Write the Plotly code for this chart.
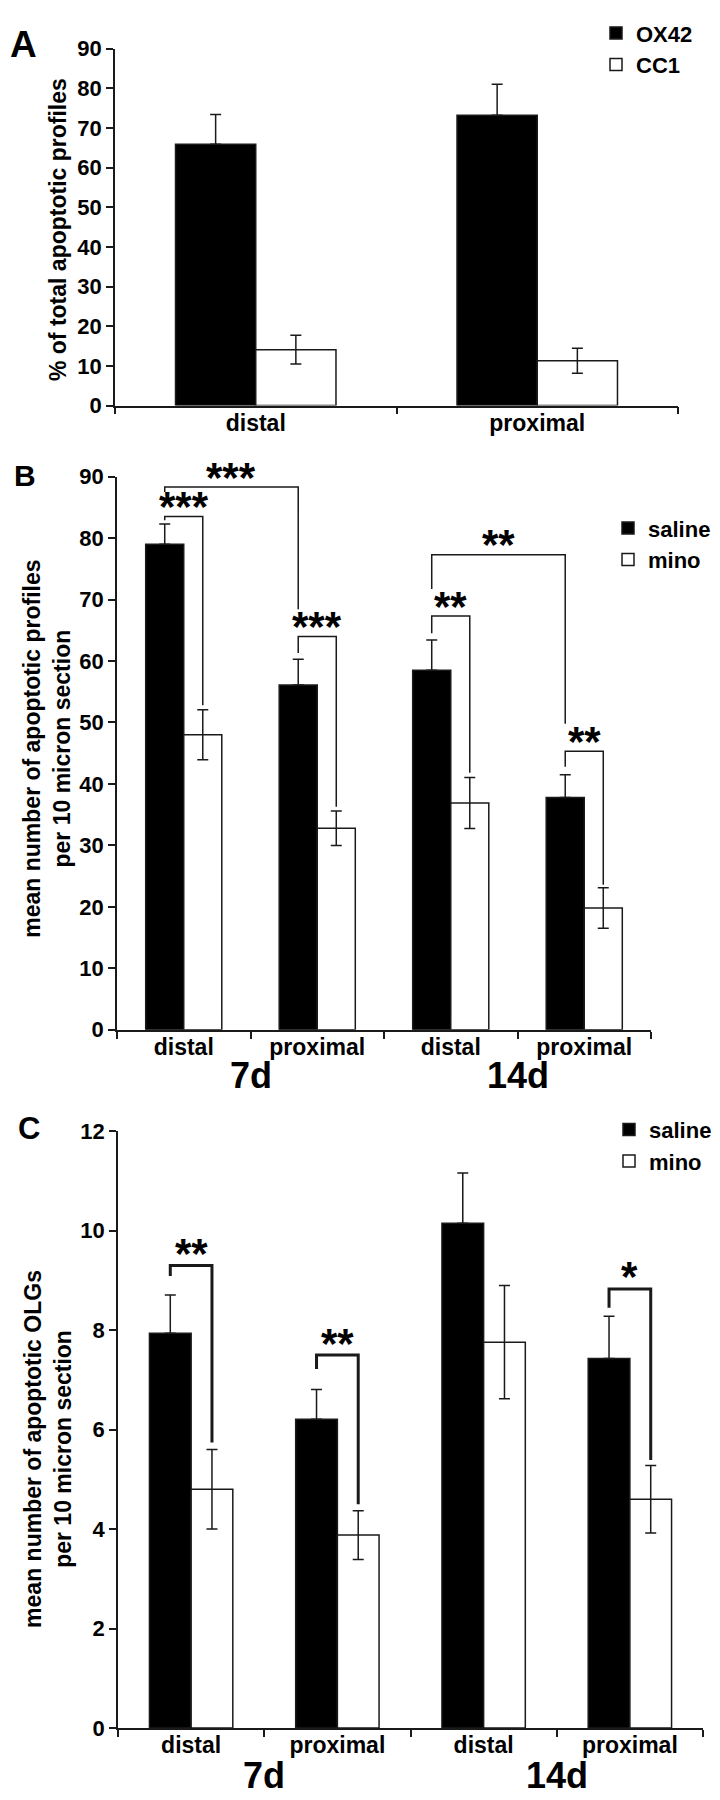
import plotly.graph_objects as go

W, H = 720, 1800
FONT = "Liberation Sans, Arial, Helvetica, sans-serif"
INK = "#1a1a1a"

# ---------------- Panel A data ----------------
a_sites = ["distal", "proximal"]
a_ox42 = [65.9, 73.2]
a_ox42_err = [7.5, 7.8]
a_cc1 = [14.1, 11.3]
a_cc1_err = [3.65, 3.15]

# ---------------- Panel B data ----------------
bc_sites = ["distal", "proximal", "distal", "proximal"]
bc_days = ["7d", "14d"]
b_saline = [79.0, 56.1, 58.5, 37.8]
b_saline_err = [3.3, 4.2, 4.9, 3.7]
b_mino = [48.0, 32.8, 36.9, 19.8]
b_mino_err = [4.05, 2.8, 4.15, 3.3]
# (left cat, left series, right cat, right series, bracket level, left leg end, right leg end, label)
b_brackets = [
    (0, 0, 0, 1, 83.5, 82.9, 52.8, "***"),
    (0, 0, 1, 0, 88.3, 87.5, 68.4, "***"),
    (1, 0, 1, 1, 64.0, 61.3, 36.3, "***"),
    (2, 0, 3, 0, 77.3, 71.7, 49.8, "**"),
    (2, 0, 2, 1, 67.3, 64.5, 41.8, "**"),
    (3, 0, 3, 1, 45.3, 42.8, 23.6, "**"),
]

# ---------------- Panel C data ----------------
c_saline = [7.94, 6.21, 10.15, 7.43]
c_saline_err = [0.77, 0.60, 1.01, 0.85]
c_mino = [4.80, 3.88, 7.76, 4.60]
c_mino_err = [0.80, 0.49, 1.14, 0.68]
c_brackets = [
    (0, 0, 0, 1, 9.30, 9.09, 5.74, "**"),
    (1, 0, 1, 1, 7.50, 7.22, 4.50, "**"),
    (3, 0, 3, 1, 8.83, 8.45, 5.39, "*"),
]

BARGAP = 0.43


def px_x(p):
    return p / W


def px_y(p):
    return 1 - p / H


def bar_center(cat, series):
    return cat + (series - 0.5) * (1 - BARGAP) / 2


fig = go.Figure()


def add_pair(names, v1, e1, v2, e2, xa, ya, legend):
    xs = list(range(len(v1)))
    fig.add_trace(go.Bar(
        x=xs, y=v1, name=names[0], xaxis=xa, yaxis=ya, legend=legend,
        marker=dict(color="black", line=dict(color=INK, width=1.5)),
        error_y=dict(type="data", symmetric=False, array=e1, arrayminus=[0] * len(e1),
                     color=INK, thickness=1.5, width=5.5),
    ))
    fig.add_trace(go.Bar(
        x=xs, y=v2, name=names[1], xaxis=xa, yaxis=ya, legend=legend,
        marker=dict(color="white", line=dict(color=INK, width=1.5)),
        error_y=dict(type="data", array=e2, color=INK, thickness=1.5, width=5.5),
    ))


add_pair(["OX42", "CC1"], a_ox42, a_ox42_err, a_cc1, a_cc1_err, "x", "y", "legend")
add_pair(["saline", "mino"], b_saline, b_saline_err, b_mino, b_mino_err, "x2", "y2", "legend2")
add_pair(["saline", "mino"], c_saline, c_saline_err, c_mino, c_mino_err, "x3", "y3", "legend3")

tickfont = dict(family=FONT, size=22, color="black", weight="bold")
labfont = dict(family=FONT, size=23, color="black", weight="bold")
legfont = dict(family=FONT, size=22, color="black", weight="bold")


def xaxis(dom, labels):
    n = len(labels)
    return dict(
        domain=[px_x(dom[0]), px_x(dom[1])], range=[-0.5, n - 0.5],
        showline=True, linecolor=INK, linewidth=1.5, mirror=False,
        tickmode="array", tickvals=list(range(n)), ticktext=labels,
        ticks="", tickfont=labfont, showgrid=False, zeroline=False,
        minor=dict(tickmode="array", tickvals=[i - 0.5 for i in range(n + 1)],
                   ticks="outside", ticklen=7, tickwidth=1.5, tickcolor=INK, showgrid=False),
        ticklabelstandoff=-4, fixedrange=True,
    )


def yaxis(top, bottom, rng, dtick):
    return dict(
        domain=[px_y(bottom), px_y(top)], range=rng, dtick=dtick,
        showline=True, linecolor=INK, linewidth=1.5,
        ticks="outside", ticklen=7, tickwidth=1.5, tickcolor=INK,
        tickfont=tickfont, showgrid=False, zeroline=False, fixedrange=True,
    )


fig.update_layout(
    width=W, height=H, margin=dict(l=0, r=0, t=0, b=0),
    paper_bgcolor="white", plot_bgcolor="white",
    barmode="group", bargap=BARGAP, bargroupgap=0,
    font=dict(family=FONT, color="black"),
    xaxis=dict(xaxis((107, 670), a_sites), anchor="y"),
    yaxis=dict(yaxis(29, 391, [0, 90], 10), anchor="x"),
    xaxis2=dict(xaxis((109, 643), bc_sites), anchor="y2"),
    yaxis2=dict(yaxis(463, 1024, [0, 90], 10), anchor="x2"),
    xaxis3=dict(xaxis((110, 695), bc_sites), anchor="y3"),
    yaxis3=dict(yaxis(1127, 1732, [0, 12], 2), anchor="x3"),
    legend=dict(x=px_x(588), y=px_y(-8), xanchor="left", yanchor="top",
                font=legfont, bgcolor="rgba(0,0,0,0)"),
    legend2=dict(x=px_x(600), y=px_y(494), xanchor="left", yanchor="top",
                 font=legfont, bgcolor="rgba(0,0,0,0)"),
    legend3=dict(x=px_x(601), y=px_y(1104), xanchor="left", yanchor="top",
                 font=legfont, bgcolor="rgba(0,0,0,0)"),
    showlegend=True,
)

shapes = []
annotations = []


def add_brackets(brackets, xa, ya, lw, shift):
    for (c1, s1, c2, s2, lvl, l_end, r_end, lab) in brackets:
        x1 = bar_center(c1, s1)
        x2 = bar_center(c2, s2)
        shapes.append(dict(
            type="path", xref=xa, yref=ya,
            path=f"M {x1},{l_end} L {x1},{lvl} L {x2},{lvl} L {x2},{r_end}",
            line=dict(color=INK, width=lw),
        ))
        annotations.append(dict(
            x=(x1 + x2) / 2, y=lvl, xref=xa, yref=ya, text=lab, showarrow=False,
            xanchor="center", yanchor="middle", yshift=shift,
            font=dict(family=FONT, size=42, color="black", weight="bold"),
        ))


add_brackets(b_brackets, "x2", "y2", 1.5, 10)
add_brackets(c_brackets, "x3", "y3", 3, 12)

# panel letters
for letter, (cx, cy, sz) in {"A": (15, 25, 37), "B": (17, 462, 30), "C": (21, 1124, 31)}.items():
    annotations.append(dict(x=px_x(cx), y=px_y(cy), xref="paper", yref="paper", text=letter,
                            showarrow=False, xanchor="center", yanchor="middle",
                            font=dict(family=FONT, size=sz, color="black", weight="bold")))

# y titles
ytitles = [
    ("% of total apoptotic profiles", 50, 213),
    ("mean number of apoptotic profiles<br>per 10 micron section", 39, 739),
    ("mean number of apoptotic OLGs<br>per 10 micron section", 40, 1449),
]
for txt, cx, cy in ytitles:
    annotations.append(dict(x=px_x(cx), y=px_y(cy), xref="paper", yref="paper", text=txt,
                            showarrow=False, textangle=-90, xanchor="center", yanchor="middle",
                            font=labfont))

# day group labels
for xa, cy in (("x2", 1070), ("x3", 1780)):
    for gi, day in enumerate(bc_days):
        annotations.append(dict(x=gi * 2 + 0.5, y=px_y(cy), xref=xa, yref="paper", text=day,
                                showarrow=False, xanchor="center", yanchor="middle",
                                font=dict(family=FONT, size=36, color="black", weight="bold")))

fig.update_layout(shapes=shapes, annotations=annotations)
fig.write_html("out.html")
